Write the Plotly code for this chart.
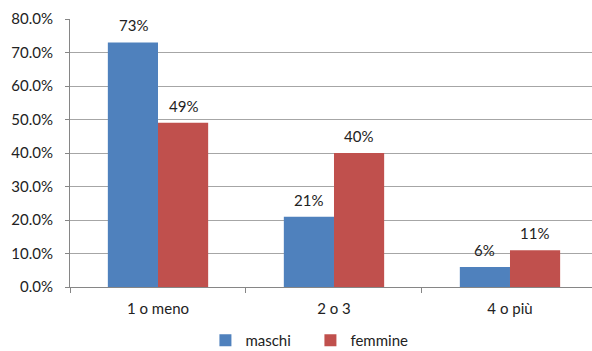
import plotly.graph_objects as go

categories = ["1 o meno", "2 o 3", "4 o più"]
maschi = [73, 21, 6]
femmine = [49, 40, 11]
y_ticks = [0, 10, 20, 30, 40, 50, 60, 70, 80]

FONT = "Lato, 'Open Sans', sans-serif"
BLUE = "#4F81BD"
RED = "#C0504D"
BAR_PX = 50

fig = go.Figure()
fig.add_trace(go.Bar(name="maschi", x=categories, y=maschi, marker_color=BLUE,
                     marker_line_width=0))
fig.add_trace(go.Bar(name="femmine", x=categories, y=femmine, marker_color=RED,
                     marker_line_width=0))

for series, shift in ((maschi, -BAR_PX / 2), (femmine, BAR_PX / 2)):
    for cat, v in zip(categories, series):
        fig.add_annotation(x=cat, y=v, xref="x", yref="y", text=f"{v}%",
                           showarrow=False, xshift=shift, yshift=6,
                           yanchor="bottom", font=dict(size=15, color="#222222", family=FONT))

fig.update_layout(
    width=592, height=351,
    margin=dict(l=70, r=0, t=19, b=64, autoexpand=False),
    paper_bgcolor="white", plot_bgcolor="white",
    barmode="group", bargap=0.43, bargroupgap=0,
    font=dict(family=FONT, size=15, color="#222222"),
    showlegend=True,
    legend=dict(orientation="h", xref="container", yref="container",
                x=0.347, xanchor="left", y=0.03, yanchor="middle",
                font=dict(size=15), entrywidth=60, itemwidth=30, traceorder="normal"),
    xaxis=dict(range=[-0.5, 2.466], showline=True, linecolor="#868686", linewidth=1,
               ticks="outside", tickson="boundaries", ticklen=5, tickcolor="#868686",
               ticklabelstandoff=8, showgrid=False, zeroline=False),
    yaxis=dict(range=[0, 80], tickvals=y_ticks, ticktext=[f"{v:.1f}%" for v in y_ticks],
               showline=True, linecolor="#868686", linewidth=1,
               ticks="outside", ticklen=4, tickcolor="#868686", ticklabelstandoff=9,
               showgrid=True, gridcolor="#A6A6A6", gridwidth=1, zeroline=False),
)

fig.write_html("out.html")
